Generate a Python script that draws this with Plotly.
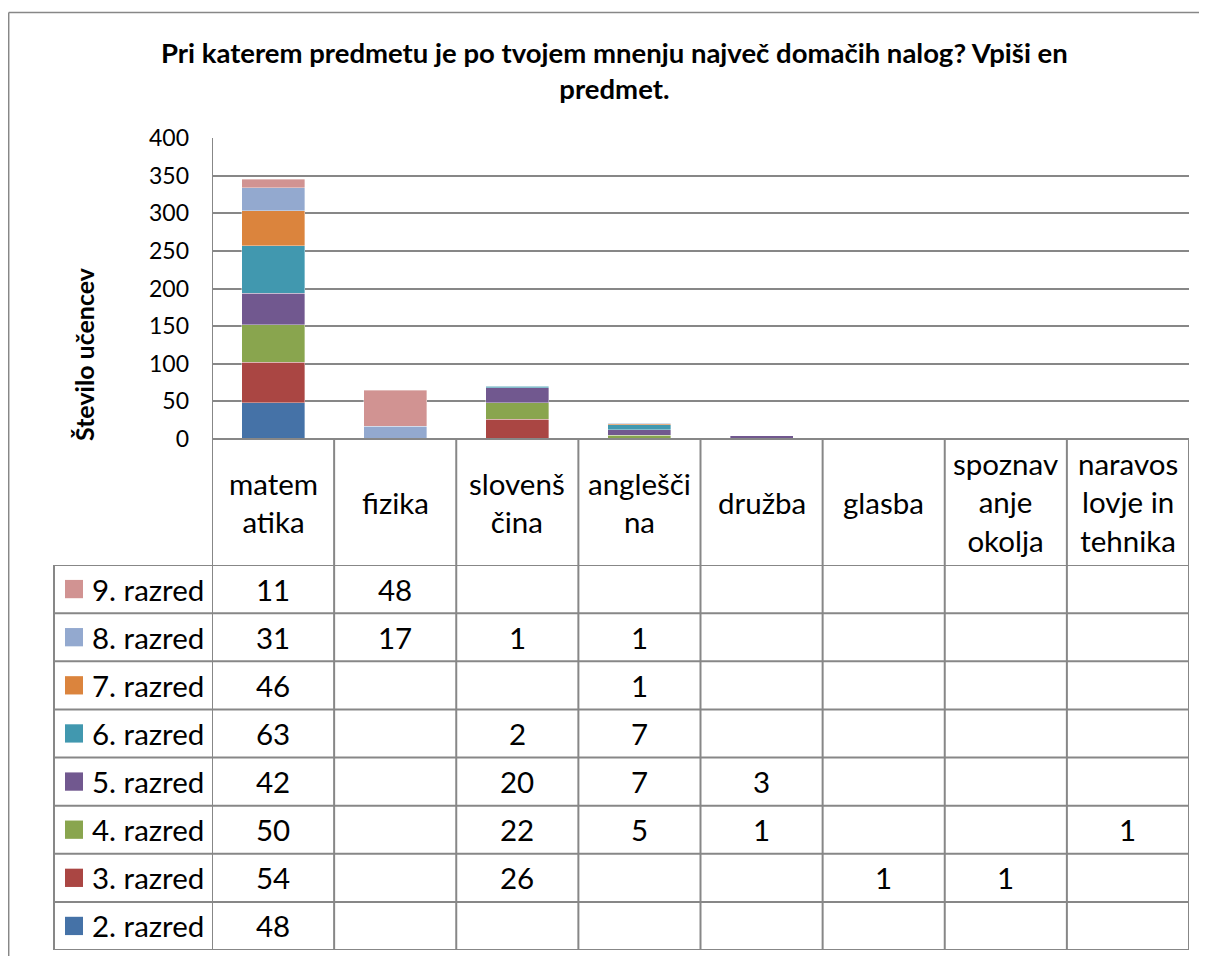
import plotly.graph_objects as go

W, H = 1207, 956

subjects = ["matematika", "fizika", "slovenščina", "angleščina", "družba",
            "glasba", "spoznavanje okolja", "naravoslovje in tehnika"]
header_labels = ["matem<br>atika", "fizika", "slovenš<br>čina", "anglešči<br>na",
                 "družba", "glasba", "spoznav<br>anje<br>okolja", "naravos<br>lovje in<br>tehnika"]

grades = ["2. razred", "3. razred", "4. razred", "5. razred",
          "6. razred", "7. razred", "8. razred", "9. razred"]
colors = ["#4572A7", "#AA4643", "#89A54E", "#71588F",
          "#4198AF", "#DB843D", "#93A9CF", "#D19392"]

r2 = [48, None, None, None, None, None, None, None]
r3 = [54, None, 26, None, None, 1, 1, None]
r4 = [50, None, 22, 5, 1, None, None, 1]
r5 = [42, None, 20, 7, 3, None, None, None]
r6 = [63, None, 2, 7, None, None, None, None]
r7 = [46, None, None, 1, None, None, None, None]
r8 = [31, 17, 1, 1, None, None, None, None]
r9 = [11, 48, None, None, None, None, None, None]
series = [r2, r3, r4, r5, r6, r7, r8, r9]

title_text = "Pri katerem predmetu je po tvojem mnenju največ domačih nalog? Vpiši en<br>predmet."
y_title = "Število učencev"

FONT = "Lato"
GRAY = "#878787"
OFF = 8  # page body margin


def px(x):
    return (x - OFF) / W


def py(y):
    return 1 - (y - OFF) / H


plot_left, plot_right = 212, 1189
plot_top, plot_bottom = 138, 439
table_header_bottom, table_bottom = 565, 950
legend_left = 54

fig = go.Figure()
for g, c, vals in zip(grades, colors, series):
    fig.add_trace(go.Bar(
        x=subjects, y=vals, name=g,
        marker=dict(color=c, line=dict(color="rgba(255,255,255,0.6)", width=0.6)),
        xaxis="x", yaxis="y", showlegend=False, hoverinfo="x+y+name"))

fig.update_layout(
    width=W, height=H, margin=dict(l=0, r=0, t=0, b=0, autoexpand=False),
    paper_bgcolor="white", plot_bgcolor="white",
    barmode="stack", bargap=0.484,
    font=dict(family=FONT, color="black"),
    xaxis=dict(domain=[px(plot_left), px(plot_right)], range=[-0.5, 7.5],
               showticklabels=False, showgrid=False, zeroline=False, showline=False,
               categoryorder="array", categoryarray=subjects, anchor="y", automargin=False),
    yaxis=dict(domain=[py(plot_bottom), py(plot_top)], range=[0, 400], dtick=50,
               showgrid=True, gridcolor=GRAY, gridwidth=1.5, zeroline=False,
               showline=False, tickfont=dict(size=23, family=FONT, color="black"),
               ticklabelstandoff=22, anchor="x", automargin=False),
    xaxis2=dict(domain=[px(plot_left), px(plot_right)], range=[-0.5, 7.5],
                visible=False, anchor="y2", automargin=False),
    yaxis2=dict(domain=[py(table_bottom), py(table_header_bottom)], range=[-0.5, 7.5],
                visible=False, anchor="x2", automargin=False),
)

shapes = []
line = dict(color=GRAY, width=2)
frame = dict(color=GRAY, width=1.5)
# outer chart frame (top and left edges only visible)
shapes.append(dict(type="line", xref="paper", yref="paper", x0=px(8.7), x1=px(1220),
                   y0=py(12.5), y1=py(12.5), line=frame))
shapes.append(dict(type="line", xref="paper", yref="paper", x0=px(8.7), x1=px(8.7),
                   y0=py(12.5), y1=py(990), line=frame))
# left axis / table column lines
for i in range(9):
    top = plot_top if i == 0 else plot_bottom
    shapes.append(dict(type="line", xref="x", yref="paper", x0=i - 0.5, x1=i - 0.5,
                       y0=py(top), y1=py(table_bottom), line=line))
# axis line / header top
shapes.append(dict(type="line", xref="paper", yref="paper", x0=px(plot_left), x1=px(plot_right),
                   y0=py(plot_bottom), y1=py(plot_bottom), line=line))
# row lines
for r in range(9):
    shapes.append(dict(type="line", xref="paper", yref="y2", x0=px(legend_left), x1=px(plot_right),
                       y0=r - 0.5, y1=r - 0.5, line=line))
# legend column left line
shapes.append(dict(type="line", xref="paper", yref="paper", x0=px(legend_left), x1=px(legend_left),
                   y0=py(table_header_bottom), y1=py(table_bottom), line=line))
# legend swatches
for r, c in enumerate(colors):
    shapes.append(dict(type="rect", xref="paper", yref="y2", x0=px(65), x1=px(83),
                       y0=r - 0.19, y1=r + 0.19, fillcolor=c, line=dict(width=0)))

annotations = []
annotations.append(dict(text="<b>" + title_text.replace("<br>", "</b><br><b>") + "</b>",
                        xref="paper", yref="paper", x=px(614), y=py(71),
                        showarrow=False, font=dict(size=27.5, family=FONT, color="black"),
                        xanchor="center", yanchor="middle", align="center"))
annotations.append(dict(text="<b>" + y_title + "</b>", xref="paper", yref="paper",
                        x=px(84), y=py(354), textangle=-90, showarrow=False,
                        font=dict(size=25, family=FONT, color="black"),
                        xanchor="center", yanchor="middle"))
for i, lab in enumerate(header_labels):
    annotations.append(dict(text=lab, xref="x2", yref="paper", x=i, y=py(502),
                            showarrow=False, font=dict(size=29.5, family=FONT, color="black"),
                            xanchor="center", yanchor="middle", align="center"))
for r, (g, vals) in enumerate(zip(grades, series)):
    annotations.append(dict(text=g, xref="paper", yref="y2", x=px(90), y=r,
                            showarrow=False, font=dict(size=29.5, family=FONT, color="black"),
                            xanchor="left", yanchor="middle"))
    for i, v in enumerate(vals):
        if v is not None:
            annotations.append(dict(text=str(v), xref="x2", yref="y2", x=i, y=r,
                                    showarrow=False, font=dict(size=29.5, family=FONT, color="black"),
                                    xanchor="center", yanchor="middle"))

fig.update_layout(shapes=shapes, annotations=annotations)
fig.write_html("out.html")
